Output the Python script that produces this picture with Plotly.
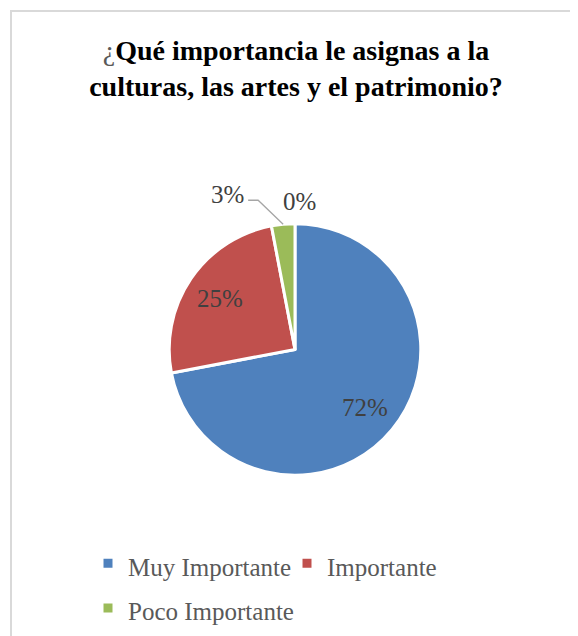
import math
import plotly.graph_objects as go

# ---- data ----
categories = ["Muy Importante", "Importante", "Poco Importante", "Nada Importante"]
values = [72, 25, 3, 0]
colors = ["#4f81bd", "#c0504d", "#9bbb59", "#8064a2"]
title_text = "¿Qué importancia le asignas a la<br>culturas, las artes y el patrimonio?"

# page is offset by the 8px default body margin
OFF = 8
W, H = 578 - OFF, 636 - OFF
CX, CY, R = 295, 350, 126  # pie geometry in page pixels

def px(x):
    return (x - OFF) / W

def py(y):
    return 1 - (y - OFF) / H

LABEL_FONT = dict(family="Liberation Serif", size=25, color="#404040")

total = sum(values)
pcts = [f"{round(v / total * 100)}%" for v in values]

# slices with a value are drawn (zero slices get only a callout label)
shown = [i for i, v in enumerate(values) if v > 0]
legend_labels = [f"<span style='font-size:25px'>{categories[i]}</span>" for i in shown]

fig = go.Figure()
fig.add_trace(go.Pie(
    labels=legend_labels,
    values=[values[i] for i in shown],
    sort=False,
    direction="clockwise",
    rotation=0,
    marker=dict(colors=[colors[i] for i in shown], line=dict(color="white", width=3)),
    textinfo="none",
    domain=dict(x=[px(CX - R), px(CX + R)], y=[py(CY + R), py(CY - R)]),
    hovertemplate="%{label}: %{percent}<extra></extra>",
    showlegend=True,
))

annotations = []
shapes = []
cum = 0
for i, v in enumerate(values):
    frac = v / total
    mid = (cum + frac / 2) * 2 * math.pi
    cum += frac
    ex = CX + R * math.sin(mid)
    ey = CY - R * math.cos(mid)
    if frac >= 0.1:
        r = 0.72 * R
        annotations.append(dict(
            x=px(CX + r * math.sin(mid)), y=py(CY - r * math.cos(mid)),
            xref="paper", yref="paper", text=pcts[i], showarrow=False,
            xanchor="center", yanchor="middle", font=LABEL_FONT,
        ))
    elif v > 0:
        # leader line: from slice edge diagonally up-left, then horizontal
        kx, ky = ex - 25, ey - 24
        lx = kx - 10
        shapes.append(dict(
            type="path", xref="paper", yref="paper",
            path=f"M {px(ex)} {py(ey)} L {px(kx)} {py(ky)} L {px(lx)} {py(ky)}",
            line=dict(color="#a6a6a6", width=1.3),
        ))
        annotations.append(dict(
            x=px(lx - 2), y=py(ky - 6), xref="paper", yref="paper",
            text=pcts[i], showarrow=False, xanchor="right", yanchor="middle",
            font=LABEL_FONT,
        ))
    else:
        annotations.append(dict(
            x=px(ex + 5), y=py(ey - 22), xref="paper", yref="paper",
            text=pcts[i], showarrow=False, xanchor="center", yanchor="middle",
            font=LABEL_FONT,
        ))

# chart-area border
shapes.append(dict(
    type="rect", xref="paper", yref="paper",
    x0=px(11), x1=px(578 + 5), y0=py(636 + 5), y1=py(11),
    line=dict(color="#d9d9d9", width=2), fillcolor="rgba(0,0,0,0)",
))

fig.update_layout(
    width=W, height=H,
    margin=dict(l=0, r=0, t=0, b=0),
    paper_bgcolor="white",
    plot_bgcolor="white",
    title=dict(
        text="<span style='color:#595959'>¿</span><b>" + title_text[1:] + "</b>",
        x=px(296), xanchor="center",
        y=py(60), yanchor="top",
        font=dict(family="Liberation Serif", size=28, color="#000000"),
    ),
    legend=dict(
        orientation="h",
        x=px(88), xanchor="left",
        y=py(537), yanchor="top",
        entrywidth=154, entrywidthmode="pixels",
        font=dict(family="Liberation Serif", size=32, color="#595959"),
        traceorder="normal",
    ),
    annotations=annotations,
    shapes=shapes,
)

fig.write_html("out.html")
